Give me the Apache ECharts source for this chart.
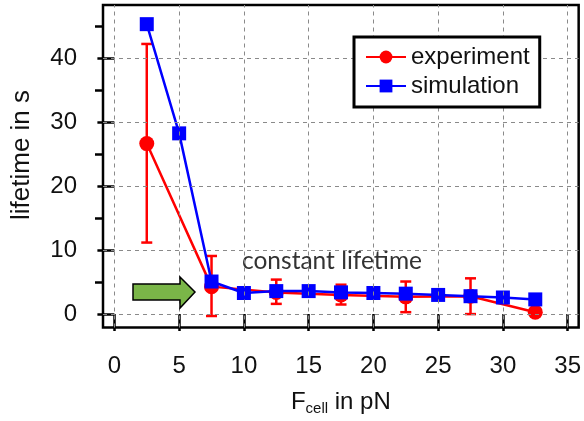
<!DOCTYPE html>
<html>
<head>
<meta charset="utf-8">
<script src="https://cdn.jsdelivr.net/npm/echarts@6/dist/echarts.min.js"></script>
<style>
  html, body { margin: 0; padding: 0; background: #fff; }
  #chart { width: 584px; height: 421px; }
</style>
</head>
<body>
<div id="chart"></div>
<script>
// === data ===
const expX = [2.5, 7.5, 12.5, 17.5, 22.5, 27.5, 32.5];
const expY = [26.7, 4.3, 3.4, 3.0, 2.7, 2.8, 0.3];
const expLow = [11.2, -0.3, 1.6, 1.5, 0.3, 0.0, 0.3];
const expHigh = [42.3, 9.1, 5.4, 4.6, 5.1, 5.6, 0.3];

const simX = [2.5, 5, 7.5, 10, 12.5, 15, 17.5, 20, 22.5, 25, 27.5, 30, 32.5];
const simY = [45.4, 28.3, 5.1, 3.3, 3.6, 3.6, 3.4, 3.3, 3.2, 3.0, 2.8, 2.6, 2.3];

// axis ticks / grid
const xTicks = [0, 5, 10, 15, 20, 25, 30, 35];
const yTicks = [0, 10, 20, 30, 40];
const yMinorTicks = [5, 15, 25, 35, 45];

const FONT = '"Liberation Sans", Arial, sans-serif';

const chart = echarts.init(document.getElementById('chart'), null, { renderer: 'canvas' });

const option = {
    animation: false,
    backgroundColor: '#fff',
    grid: {
        left: 103, right: 4, top: 5, bottom: 89,
        show: true,
        borderColor: '#000',
        borderWidth: 2.5,
        backgroundColor: 'transparent'
    },
    legend: {
        data: ['experiment', 'simulation'],
        orient: 'vertical',
        left: 354, top: 37,
        z: 10,
        padding: [8, 10, 9, 11],
        itemWidth: 40,
        itemHeight: 16,
        itemGap: 5,
        backgroundColor: '#fff',
        borderColor: '#000',
        borderWidth: 3,
        textStyle: { fontFamily: FONT, fontSize: 24, color: '#111' }
    },
    xAxis: {
        type: 'value',
        min: -0.88,
        max: 35.85,
        axisLine: { show: false },
        axisTick: {
            show: true, customValues: xTicks, length: 17,
            lineStyle: { color: '#000', width: 2.5 }
        },
        axisLabel: {
            customValues: xTicks, margin: 27,
            fontFamily: FONT, fontSize: 24, color: '#111'
        },
        splitLine: { show: false },
        name: '{a|F}{b|cell}{a| in pN}',
        nameLocation: 'middle',
        nameGap: 62,
        nameTextStyle: {
            rich: {
                a: { fontFamily: FONT, fontSize: 24, color: '#111', lineHeight: 26 },
                b: { fontFamily: FONT, fontSize: 15, color: '#111', lineHeight: 26, padding: [12, 0, 0, 0] }
            }
        }
    },
    yAxis: [
        {
            type: 'value',
            min: -2.1,
            max: 48.4,
            axisLine: { show: false },
            axisTick: {
                show: true, customValues: yTicks, length: 17,
                lineStyle: { color: '#000', width: 2.5 }
            },
            axisLabel: {
                customValues: yTicks, margin: 26,
                fontFamily: FONT, fontSize: 24, color: '#111'
            },
            splitLine: { show: false }
        },
        {
            type: 'value',
            min: -2.1,
            max: 48.4,
            position: 'left',
            axisLine: { show: false },
            axisTick: {
                show: true, customValues: yMinorTicks, length: 8,
                lineStyle: { color: '#000', width: 2.5 }
            },
            axisLabel: { show: false },
            splitLine: { show: false }
        }
    ],
    series: [
        {
            // dashed grid
            name: 'grid',
            type: 'line',
            data: [],
            z: 1,
            markLine: {
                silent: true,
                symbol: ['none', 'none'],
                label: { show: false },
                lineStyle: { color: '#8a8a8a', width: 1, type: [4, 4] },
                data: [
                    ...xTicks.map(v => ({ xAxis: v })),
                    ...yTicks.map(v => ({ yAxis: v }))
                ]
            }
        },
        {
            name: 'error',
            type: 'custom',
            z: 2,
            data: expX.map((x, i) => [x, expLow[i], expHigh[i]]),
            renderItem: (params, api) => {
                const lo = api.coord([api.value(0), api.value(1)]);
                const hi = api.coord([api.value(0), api.value(2)]);
                const half = 5.5;
                const style = { stroke: '#ff0000', lineWidth: 2.5 };
                return {
                    type: 'group',
                    children: [
                        { type: 'line', shape: { x1: lo[0], y1: lo[1], x2: hi[0], y2: hi[1] }, style },
                        { type: 'line', shape: { x1: lo[0] - half, y1: lo[1], x2: lo[0] + half, y2: lo[1] }, style },
                        { type: 'line', shape: { x1: hi[0] - half, y1: hi[1], x2: hi[0] + half, y2: hi[1] }, style }
                    ]
                };
            }
        },
        {
            name: 'experiment',
            type: 'line',
            z: 3,
            data: expX.map((x, i) => [x, expY[i]]),
            symbol: 'circle',
            symbolSize: 15,
            itemStyle: { color: '#ff0000' },
            lineStyle: { color: '#ff0000', width: 2.5 }
        },
        {
            name: 'simulation',
            type: 'line',
            z: 4,
            data: simX.map((x, i) => [x, simY[i]]),
            symbol: 'rect',
            symbolSize: 14,
            itemStyle: { color: '#0000ff' },
            lineStyle: { color: '#0000ff', width: 2.5 }
        }
    ],
    graphic: [
        {
            type: 'text',
            x: 22, y: 155,
            rotation: Math.PI / 2,
            style: {
                text: 'lifetime in s',
                font: '26px "Liberation Sans", Arial, sans-serif',
                fill: '#111',
                align: 'center',
                verticalAlign: 'middle'
            }
        },
        {
            type: 'text',
            x: 242, y: 261,
            style: {
                text: 'constant lifetime',
                font: '24.5px Lato, "Open Sans", sans-serif',
                fill: '#333',
                align: 'left',
                verticalAlign: 'middle'
            }
        },
        {
            type: 'polygon',
            shape: {
                points: [[133, 284], [180, 284], [180, 277], [195, 292], [180, 308], [180, 300], [133, 300]]
            },
            style: { fill: '#7ab648', stroke: '#000', lineWidth: 1.5 },
            z: 10
        }
    ]
};

chart.setOption(option);
</script>
</body>
</html>
